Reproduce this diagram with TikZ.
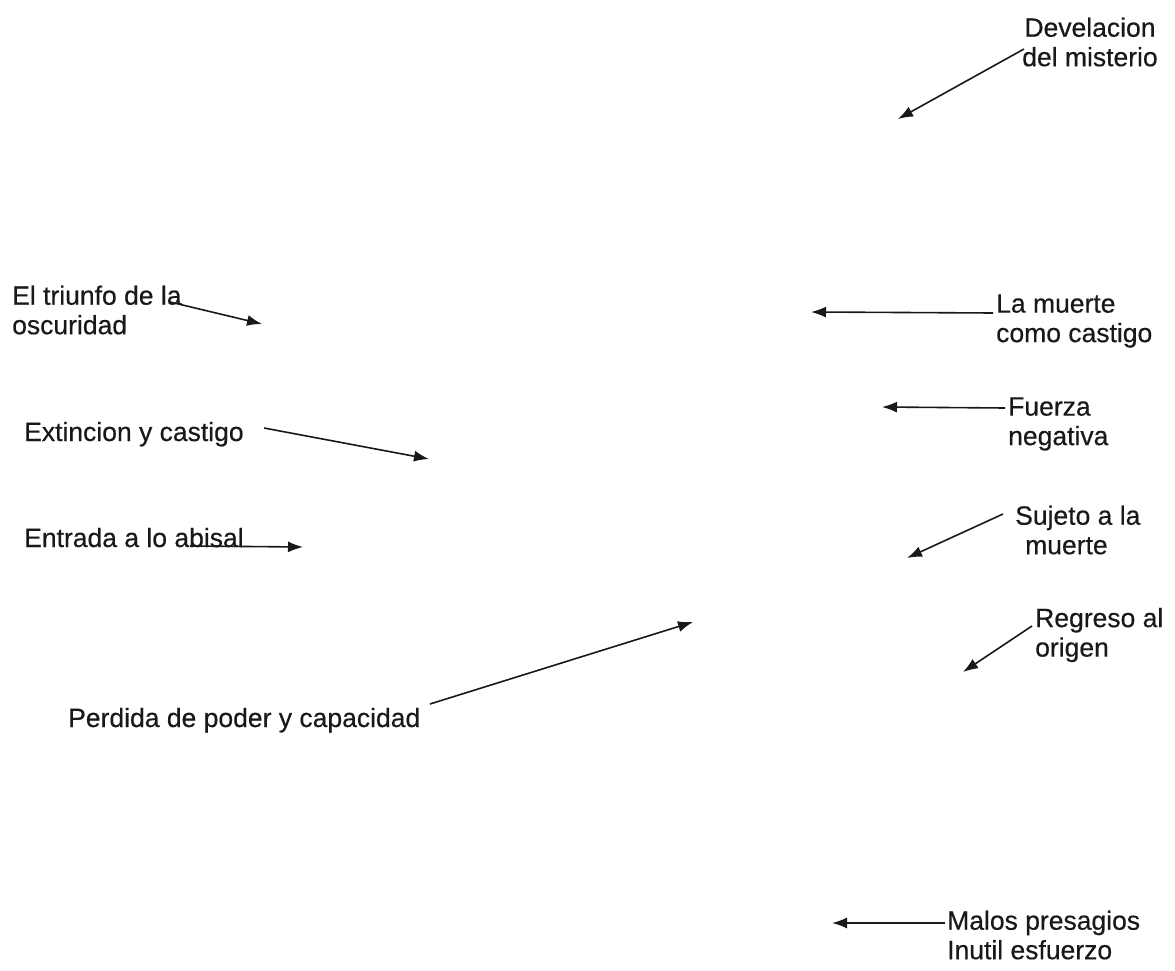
\documentclass[tikz,border=0pt]{standalone}
\usepackage{fontspec}
\setmainfont{Liberation Sans}[FakeBold=0.4]
\usetikzlibrary{arrows.meta}
\begin{document}
\begin{tikzpicture}[x=1pt,y=-1pt,
  lbl/.style={inner sep=0pt, font=\fontsize{26.5}{29.5}\selectfont, text=black!90},
  arr/.style={line width=1.6pt, draw=black!90, -{Latex[length=15pt,width=11pt]}}]
\useasboundingbox (0,0) rectangle (1175,971);
\fill[white] (0,0) rectangle (1175,971);

% labels
\node[lbl, align=center] (dev) at (1090,42) {Develacion\\del misterio};
\node[lbl, align=left, anchor=west] (tri) at (12,310) {El triunfo de la\\oscuridad};
\node[lbl, align=left, anchor=west] (mue) at (996,321) {La muerte\\como castigo};
\node[lbl, align=left, anchor=west] (fue) at (1008,424) {Fuerza\\negativa};
\node[lbl, anchor=base west] (ext) at (24,441) {Extincion y castigo};
\node[lbl, anchor=base west] (ent) at (24,547) {Entrada a lo abisal};
\node[lbl, align=left, anchor=west] (suj) at (1015,530) {Sujeto a la\\\hspace*{10pt}muerte};
\node[lbl, align=left, anchor=west] (reg) at (1035,635) {Regreso al\\origen};
\node[lbl, anchor=base west] (per) at (68,727) {Perdida de poder y capacidad};
\node[lbl, align=left, anchor=west] (mal) at (947,935) {Malos presagios\\Inutil esfuerzo};

% arrow tails (at the labels) and tips
\coordinate (devS) at (1024,49);  \coordinate (devT) at (898,119);
\coordinate (triS) at (170,302);  \coordinate (triT) at (262,324);
\coordinate (mueS) at (993,313);  \coordinate (mueT) at (811,312);
\coordinate (fueS) at (1005,408); \coordinate (fueT) at (882,407);
\coordinate (extS) at (264,428);  \coordinate (extT) at (429,459);
\coordinate (entS) at (190,546);  \coordinate (entT) at (303,547);
\coordinate (sujS) at (1003,514); \coordinate (sujT) at (907,558);
\coordinate (regS) at (1032,626); \coordinate (regT) at (963,672);
\coordinate (perS) at (430,704);  \coordinate (perT) at (693,622);
\coordinate (malS) at (945,923);  \coordinate (malT) at (832,923);

\draw[arr] (devS) -- (devT);
\draw[arr] (triS) -- (triT);
\draw[arr] (mueS) -- (mueT);
\draw[arr] (fueS) -- (fueT);
\draw[arr] (extS) -- (extT);
\draw[arr] (entS) -- (entT);
\draw[arr] (sujS) -- (sujT);
\draw[arr] (regS) -- (regT);
\draw[arr] (perS) -- (perT);
\draw[arr] (malS) -- (malT);
\end{tikzpicture}
\end{document}
